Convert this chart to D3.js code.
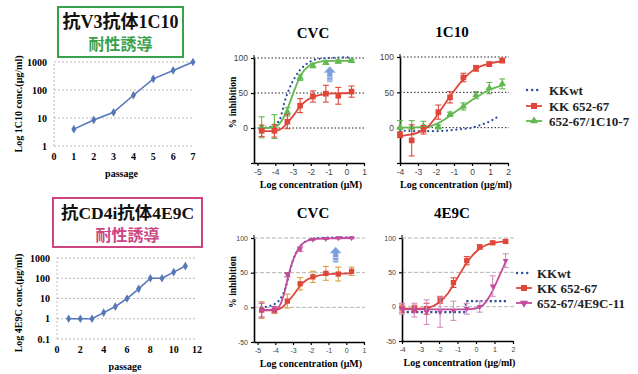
<!DOCTYPE html>
<html>
<head>
<meta charset="utf-8">
<script src="https://cdn.jsdelivr.net/npm/d3@7/dist/d3.min.js"></script>
<style>
body{margin:0;background:#fff;}
svg{display:block;}
</style>
</head>
<body>
<script>
// ---------- passage (resistance induction) data ----------
var pass1=[1,2,3,4,5,6,7];
var conc1=[4,8.5,16,65,250,500,1000];
var pass2=[1,2,3,4,5,6,7,8,9,10,11];
var conc2=[1,1,1,2,4,10,30,100,100,200,400];

// ---------- top CVC (uM) ----------
var cvcX=[-4.77,-4.05,-3.32,-2.6,-1.88,-1.15,-0.45,0.3];
var cvcA_red=[-4,-4,9,32,45,49,46,52];
var cvcA_redErr=[8,9,10,10,8,12,12,8];
var cvcA_green=[1,2,23,72,89,93,95,96];
var cvcA_greenErr=[15,17,6,4,3,2,2,2];
var cvcA_redFitX=[-4.8,-4,-3.6,-3.3,-3,-2.6,-2.2,-1.8,-1.2,-0.5,0.3];
var cvcA_redFitY=[-4.5,-4,0,8,17,31,40,45,48.5,49.5,50];
var cvcA_greenFitX=[-4.8,-4.1,-3.7,-3.4,-3.1,-2.8,-2.5,-2.1,-1.6,-1,0.3];
var cvcA_greenFitY=[0,1,8,22,42,62,78,89,94,96,96];
var cvcA_blueX=[-4.8,-4.2,-3.75,-3.47,-3.2,-2.9,-2.6,-2.15,-1.7,-1,0.3];
var cvcA_blueY=[0,2,12,38,57,72,83,93,98,100,101];

// ---------- top 1C10 (ug/ml) ----------
var c10X=[-4,-3.35,-2.7,-1.87,-1.22,-0.48,0.22,0.96,1.68];
var c10_red=[-10,-18,-3,22,43,71,84,90,95];
var c10_redErr=[4,22,6,10,8,6,4,3,3];
var c10_green=[0,0,2,1,19,30,46,56,62];
var c10_greenErr=[10,10,7,3,3,5,5,8,7];
var c10_redFitX=[-4,-3.5,-3,-2.5,-2,-1.5,-1,-0.5,0,0.5,1,1.7];
var c10_redFitY=[-12,-10,-7,0,15,34,52,68,80,87,91,94];
var c10_greenFitX=[-4,-2.5,-2,-1.5,-1,-0.5,0,0.5,1,1.7];
var c10_greenFitY=[0,1,5,12,21,30,39,47,54,60];
var c10_blueX=[-4,-3,-2,-1,0,0.5,1,1.4];
var c10_blueY=[-4,-5,-5,-3,0,4,9,15];

// ---------- bottom CVC (uM) ----------
var cvcB_red=[-4,-4,9,34,44,49,48,52];
var cvcB_redErr=[12,5,10,9,8,10,10,6];
var cvcB_mag=[-4,-3,47,84,98,99,100,100];
var cvcB_magErr=[10,4,3,3,1,1,1,1];
var cvcB_redFitX=[-4.8,-4,-3.6,-3.3,-3,-2.6,-2.2,-1.8,-1.2,-0.5,0.3];
var cvcB_redFitY=[-4.5,-4,0,8,17,31,40,44,47.5,48.5,49];
var cvcB_magFitX=[-4.8,-4,-3.7,-3.5,-3.25,-3,-2.75,-2.5,-2.2,-1.8,-1,0.3];
var cvcB_magFitY=[-4,-3,5,20,47,68,82,91,96,98.5,99.5,100];
var cvcB_blueX=[-4.8,-4.2,-3.7,-3.4,-3.2,-3,-2.7,-2.4,-2,-1.5,0.3];
var cvcB_blueY=[0,3,13,30,50,68,84,93,98,100,101];

// ---------- bottom 4E9C (ug/ml) ----------
var e9X=[-4,-3.33,-2.67,-1.94,-1.22,-0.5,0.2,0.9,1.6];
var e9_red=[-2,-3,-3,10,35,67,87,93,95];
var e9_redErr=[6,5,8,5,7,6,3,2,2];
var e9_mag=[-3,-5,-8,-8,-6,-3,0,30,67];
var e9_magErr=[8,10,18,22,14,8,8,15,10];
var e9_redFitX=[-4,-3,-2.5,-2,-1.5,-1,-0.5,0,0.5,1,1.6];
var e9_redFitY=[-3,-3,-1,6,20,42,64,80,89,93,95];
var e9_magFitX=[-4,-1,-0.3,0.2,0.5,0.8,1.1,1.4,1.65];
var e9_magFitY=[-4,-4,-3.5,-1,6,18,35,53,68];
var e9_blueX=[-4,-0.55,-0.55,1.7];
var e9_blueY=[-8,-8,8,8];

var RED="#e0473b", GREEN="#62b94f", BLUE="#2d4e9e", MAG="#c24b9b", LBLUE="#5577b8";
var serif='"Liberation Serif","DejaVu Serif",serif';
var sans='"Liberation Sans","DejaVu Sans",sans-serif';
var jp='"Liberation Serif","Noto Sans CJK JP",serif';

var svg=d3.select("body").append("svg").attr("width",638).attr("height",374);

function zip(a,b){ return a.map(function(d,i){ return [d,b[i]]; }); }

// ---------- title boxes ----------
function titleBox(x,y,w,h,col,line1,line2,fs1){
    svg.append("rect").attr("x",x).attr("y",y).attr("width",w).attr("height",h)
        .attr("fill","#fff").attr("stroke",col).attr("stroke-width",2);
    svg.append("text").attr("x",x+w/2).attr("y",y+21).attr("text-anchor","middle")
        .style("font-family",jp).style("font-weight","bold").style("font-size",fs1+"px")
        .attr("fill","#111").text(line1);
    svg.append("text").attr("x",x+w/2).attr("y",y+43).attr("text-anchor","middle")
        .style("font-family",'"Noto Sans CJK JP",sans-serif').style("font-weight","bold").style("font-size","16px")
        .attr("fill",col).text(line2);
}
titleBox(58,7,125,50,"#3aa04a","抗V3抗体1C10","耐性誘導",18);
titleBox(53,198,149,49,"#cc4482","抗CD4i抗体4E9C","耐性誘導",17.5);

// ---------- passage panels ----------
function passPanel(xs,ys,xd,xr,yd,yr,xticks,ylab,labY){
    var x=d3.scaleLinear().domain(xd).range(xr);
    var y=d3.scaleLog().domain(yd).range(yr);
    var g=svg.append("g");
    var yt=y.ticks().filter(function(d){ return Math.abs(Math.log10(d)-Math.round(Math.log10(d)))<1e-6; });
    g.selectAll(".grid").data(yt).enter().append("line")
        .attr("x1",xr[0]).attr("x2",xr[1]).attr("y1",y).attr("y2",y)
        .attr("stroke","#aaa").attr("stroke-dasharray","2,2").attr("stroke-width",0.8);
    g.append("line").attr("x1",xr[0]).attr("x2",xr[0]).attr("y1",yr[0]).attr("y2",yr[1])
        .attr("stroke","#aaa").attr("stroke-dasharray","2,2").attr("stroke-width",0.8);
    g.selectAll(".yl").data(yt).enter().append("text")
        .attr("x",xr[0]-7).attr("y",function(d){ return y(d)+3.5; }).attr("text-anchor","end")
        .style("font-family",serif).style("font-weight","bold").style("font-size","10px")
        .text(function(d){ return d<1 ? "0.1" : String(d); });
    g.selectAll(".xl").data(xticks).enter().append("text")
        .attr("x",x).attr("y",yr[0]+14).attr("text-anchor","middle")
        .style("font-family",serif).style("font-weight","bold").style("font-size","10px")
        .text(function(d){ return d; });
    g.append("text").attr("x",(xr[0]+xr[1])/2-2).attr("y",yr[0]+31).attr("text-anchor","middle")
        .style("font-family",serif).style("font-weight","bold").style("font-size","10px").text("passage");
    g.append("text").attr("transform","translate(22,"+labY+") rotate(-90)").attr("text-anchor","middle")
        .style("font-family",serif).style("font-weight","bold").style("font-size","10px").text(ylab);
    var pts=zip(xs,ys);
    g.append("path").attr("d",d3.line().x(function(d){return x(d[0]);}).y(function(d){return y(d[1]);})(pts))
        .attr("fill","none").attr("stroke",LBLUE).attr("stroke-width",1.6);
    g.selectAll(".m").data(pts).enter().append("path")
        .attr("transform",function(d){ return "translate("+x(d[0])+","+y(d[1])+")"; })
        .attr("d",d3.symbol(d3.symbolDiamond,22)).attr("fill",LBLUE);
}
passPanel(pass1,conc1,[0,7],[54,193],[1,1000],[146,62],[0,1,2,3,4,5,6,7],"Log 1C10 conc.(μg/ml)",104);
passPanel(pass2,conc2,[0,12],[57,197],[0.1,1000],[339,258],[0,2,4,6,8,10,12],"Log 4E9C conc.(μg/ml)",303);

// ---------- dose-response panels ----------
function dosePanel(c){
    var x=d3.scaleLinear().domain(c.xd).range(c.xr);
    var y=d3.scaleLinear().domain([-50,100]).range(c.yr);
    var g=svg.append("g");
    var top=y(100)-3;
    // grid
    g.selectAll(".grid").data([0,50,100]).enter().append("line")
        .attr("x1",c.xr[0]).attr("x2",c.xr[1]+1).attr("y1",y).attr("y2",y)
        .attr("stroke",c.bottom?"#aaa":"#222").attr("stroke-width",c.bottom?0.9:1)
        .attr("stroke-dasharray",c.bottom?"4,2":"1.5,2");
    // axes
    var ax=g.append("g").attr("transform","translate(0,"+y(-50)+")")
        .call(d3.axisBottom(x).tickValues(c.xticks).tickSize(3).tickSizeOuter(0).tickFormat(function(d){return String(d);}));
    var ay=g.append("g").attr("transform","translate("+c.xr[0]+",0)")
        .call(d3.axisLeft(y).tickValues([-50,0,50,100]).tickSize(3).tickSizeOuter(0)
        .tickFormat(function(d){ return (!c.bottom && d===-50) ? "" : String(d); }));
    g.append("line").attr("x1",c.xr[0]).attr("x2",c.xr[0]).attr("y1",top).attr("y2",y(100)).attr("stroke","#000");
    [ax,ay].forEach(function(a){
        a.select(".domain").attr("stroke","#000").attr("stroke-width",1.6);
        a.selectAll(".tick line").attr("stroke","#000").attr("stroke-width",1.2);
        a.selectAll("text").style("font-family",sans).style("font-size",c.bottom?"7px":"8.5px").attr("fill","#444");
    });
    // labels
    g.append("text").attr("x",c.tx).attr("y",c.yr[1]-20).attr("text-anchor","middle")
        .style("font-family",serif).style("font-weight","bold").style("font-size","15px").text(c.title);
    g.append("text").attr("x",(c.xr[0]+c.xr[1])/2+2).attr("y",c.yr[0]+25).attr("text-anchor","middle")
        .style("font-family",serif).style("font-weight","bold").style("font-size","10px").text(c.xlab);
    if(c.ylabel){
        g.append("text").attr("transform","translate(236,"+((c.yr[0]+c.yr[1])/2-8)+") rotate(-90)")
            .attr("text-anchor","middle").style("font-family",serif).style("font-weight","bold")
            .style("font-size","9.5px").text("% inhibition");
    }
    var line=d3.line().curve(d3.curveMonotoneX).x(function(d){return x(d[0]);}).y(function(d){return y(d[1]);});
    var lineLin=d3.line().x(function(d){return x(d[0]);}).y(function(d){return y(d[1]);});
    // KKwt dotted
    g.append("path").attr("d",(c.blueStep?lineLin:line)(zip(c.blueX,c.blueY)))
        .attr("fill","none").attr("stroke",BLUE).attr("stroke-width",2.2)
        .attr("stroke-dasharray",c.blueStep?"2.2,2.5":"0.1,4.6").attr("stroke-linecap",c.blueStep?"butt":"round");
    // series
    c.series.forEach(function(s){
        g.append("path").attr("d",line(zip(s.fx,s.fy))).attr("fill","none")
            .attr("stroke",s.col).attr("stroke-width",1.8);
        var pts=c.px.map(function(d,i){ return {x:d,y:s.y[i],e:s.e[i]}; });
        var eb=g.selectAll(null).data(pts).enter().append("g").attr("stroke",s.ecol||s.col).attr("stroke-width",1.1);
        eb.append("line").attr("x1",function(d){return x(d.x);}).attr("x2",function(d){return x(d.x);})
            .attr("y1",function(d){return y(d.y-d.e);}).attr("y2",function(d){return y(d.y+d.e);});
        eb.append("line").attr("x1",function(d){return x(d.x)-3;}).attr("x2",function(d){return x(d.x)+3;})
            .attr("y1",function(d){return y(d.y+d.e);}).attr("y2",function(d){return y(d.y+d.e);});
        eb.append("line").attr("x1",function(d){return x(d.x)-3;}).attr("x2",function(d){return x(d.x)+3;})
            .attr("y1",function(d){return y(d.y-d.e);}).attr("y2",function(d){return y(d.y-d.e);});
        g.selectAll(null).data(pts).enter().append("path")
            .attr("transform",function(d){ return "translate("+x(d.x)+","+y(d.y)+")"+(s.down?" rotate(180)":""); })
            .attr("d",d3.symbol(s.sym,s.size)).attr("fill",s.col);
    });
    // arrow
    if(c.arrow){
        var ax0=x(c.arrow[0]), y0=y(c.arrow[1]), y1=y(c.arrow[2]);
        g.append("path").attr("d","M"+(ax0-2.5)+","+y0+"V"+(y1+6)+"H"+(ax0-5.5)+"L"+ax0+","+y1+"L"+(ax0+5.5)+","+(y1+6)+"H"+(ax0+2.5)+"V"+y0+"Z")
            .attr("fill","#7d9fd9").attr("stroke","#9fb8e6").attr("stroke-width",0.6);
        g.append("line").attr("x1",ax0-2.5).attr("x2",ax0+2.5).attr("y1",(y0+y1)/2+3).attr("y2",(y0+y1)/2+3).attr("stroke","#c8d6f2").attr("stroke-width",1);
        g.append("line").attr("x1",ax0-2.5).attr("x2",ax0+2.5).attr("y1",(y0+y1)/2+6).attr("y2",(y0+y1)/2+6).attr("stroke","#c8d6f2").attr("stroke-width",1);
    }
}

dosePanel({xd:[-5.2,1],xr:[254,364],yr:[163,58],xticks:[-5,-4,-3,-2,-1,0,1],title:"CVC",tx:313,
    xlab:"Log concentration (μM)",ylabel:true,px:cvcX,blueX:cvcA_blueX,blueY:cvcA_blueY,arrow:[-0.93,66,88],
    series:[{y:cvcA_green,e:cvcA_greenErr,fx:cvcA_greenFitX,fy:cvcA_greenFitY,col:GREEN,sym:d3.symbolTriangle,size:24},
            {y:cvcA_red,e:cvcA_redErr,fx:cvcA_redFitX,fy:cvcA_redFitY,col:RED,sym:d3.symbolSquare,size:32}]});
dosePanel({xd:[-4,2],xr:[400,508],yr:[163,57],xticks:[-4,-3,-2,-1,0,1,2],title:"1C10",tx:452,
    xlab:"Log concentration (μg/ml)",px:c10X,blueX:c10_blueX,blueY:c10_blueY,
    series:[{y:c10_green,e:c10_greenErr,fx:c10_greenFitX,fy:c10_greenFitY,col:GREEN,sym:d3.symbolTriangle,size:24},
            {y:c10_red,e:c10_redErr,fx:c10_redFitX,fy:c10_redFitY,col:RED,sym:d3.symbolSquare,size:32}]});
dosePanel({xd:[-5.2,1],xr:[254,364],yr:[342,238],xticks:[-5,-4,-3,-2,-1,0,1],title:"CVC",tx:313,bottom:true,
    xlab:"Log concentration (μM)",ylabel:true,px:cvcX,blueX:cvcB_blueX,blueY:cvcB_blueY,arrow:[-0.6,65,87],
    series:[{y:cvcB_red,e:cvcB_redErr,fx:cvcB_redFitX,fy:cvcB_redFitY,col:RED,ecol:"#d9a040",sym:d3.symbolSquare,size:28},
            {y:cvcB_mag,e:cvcB_magErr,fx:cvcB_magFitX,fy:cvcB_magFitY,col:MAG,sym:d3.symbolTriangle,size:14,down:true}]});
dosePanel({xd:[-4,2],xr:[402,513],yr:[341,238],xticks:[-4,-3,-2,-1,0,1,2],title:"4E9C",tx:452,bottom:true,
    xlab:"Log concentration (μg/ml)",px:e9X,blueX:e9_blueX,blueY:e9_blueY,blueStep:true,
    series:[{y:e9_red,e:e9_redErr,fx:e9_redFitX,fy:e9_redFitY,col:RED,sym:d3.symbolSquare,size:28},
            {y:e9_mag,e:e9_magErr,fx:e9_magFitX,fy:e9_magFitY,col:MAG,ecol:"#cf8fc0",sym:d3.symbolTriangle,size:14,down:true}]});

// ---------- legends ----------
function legend(x0,tx,ys,names,cols,syms){
    var g=svg.append("g");
    names.forEach(function(n,i){
        var y=ys[i];
        if(i===0){
            g.append("line").attr("x1",x0+1).attr("x2",x0+16).attr("y1",y).attr("y2",y)
                .attr("stroke",BLUE).attr("stroke-width",2.4).attr("stroke-dasharray","0.1,5")
                .attr("stroke-linecap","round");
        } else {
            g.append("line").attr("x1",x0).attr("x2",x0+16).attr("y1",y).attr("y2",y)
                .attr("stroke",cols[i]).attr("stroke-width",1.8);
            g.append("path").attr("transform","translate("+(x0+8)+","+y+")"+(syms[i]===2?" rotate(180)":""))
                .attr("d",d3.symbol(syms[i]===1?d3.symbolSquare:d3.symbolTriangle,syms[i]===1?36:28)).attr("fill",cols[i]);
        }
        g.append("text").attr("x",tx).attr("y",y+4.5)
            .style("font-family",serif).style("font-weight","bold").style("font-size","13px").attr("fill","#222").text(n);
    });
}
legend(526,549,[90,106,121],["KKwt","KK 652-67","652-67/1C10-7"],[BLUE,RED,GREEN],[0,1,3]);
legend(516,537,[273,288,303],["KKwt","KK 652-67","652-67/4E9C-11"],[BLUE,RED,MAG],[0,1,2]);
</script>
</body>
</html>
